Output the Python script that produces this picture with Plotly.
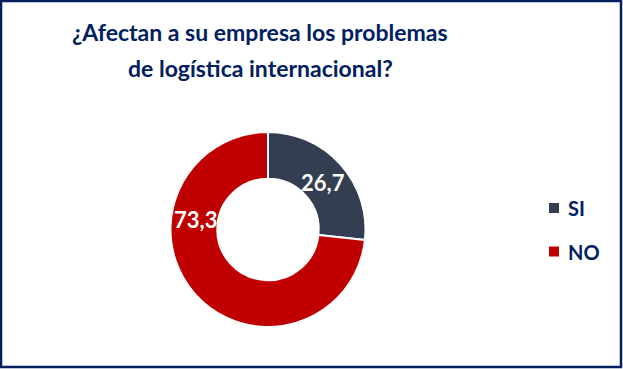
import plotly.graph_objects as go

categories = ["SI", "NO"]
values = [26.7, 73.3]
value_labels = ["26,7", "73,3"]
colors = ["#333F50", "#C00000"]
title_lines = ["¿Afectan a su empresa los problemas", "de logística internacional?"]

W, H = 623, 369
NAVY = "#002060"
FONT = "Lato"

def px(x):
    return x / W

def py(y):
    return 1 - y / H

# pie geometry (pixels)
cx, cy, r = 268, 229.5, 97.5

fig = go.Figure()
fig.add_trace(go.Pie(
    labels=categories,
    values=values,
    hole=0.52,
    sort=False,
    direction="clockwise",
    rotation=0,
    marker=dict(colors=colors, line=dict(color="white", width=2)),
    textinfo="none",
    showlegend=False,
    hoverinfo="label+value",
    domain=dict(x=[px(cx - r), px(cx + r)], y=[py(cy + r), py(cy - r)]),
))

# title (two lines)
for line, ty in zip(title_lines, [32, 68]):
    fig.add_annotation(x=px(260), y=py(ty), xref="paper", yref="paper",
                       text=f"<b>{line}</b>", showarrow=False,
                       font=dict(family=FONT, size=23, color=NAVY),
                       xanchor="center", yanchor="middle")

# data labels
label_pos = [(323, 182), (195, 219)]
for txt, (lx, ly) in zip(value_labels, label_pos):
    fig.add_annotation(x=px(lx), y=py(ly), xref="paper", yref="paper",
                       text=f"<b>{txt}</b>", showarrow=False,
                       font=dict(family=FONT, size=22, color="white"),
                       xanchor="center", yanchor="middle")

# legend (manual)
leg_y = [208, 251.5]
for cat, col, ly in zip(categories, colors, leg_y):
    fig.add_shape(type="rect", xref="paper", yref="paper",
                  x0=px(549), x1=px(559), y0=py(ly + 5), y1=py(ly - 5),
                  fillcolor=col, line=dict(width=0))
    fig.add_annotation(x=px(566), y=py(ly), xref="paper", yref="paper",
                       text=f"<b>{cat}</b>", showarrow=False,
                       font=dict(family=FONT, size=20, color=NAVY),
                       xanchor="left", yanchor="middle")

# border
fig.add_shape(type="rect", xref="paper", yref="paper",
              x0=px(1), x1=px(621), y0=py(367), y1=py(1),
              line=dict(color=NAVY, width=2.5), fillcolor="rgba(0,0,0,0)")

fig.update_layout(
    width=W, height=H,
    margin=dict(l=0, r=0, t=0, b=0),
    paper_bgcolor="white", plot_bgcolor="white",
)

fig.write_html("out.html")
